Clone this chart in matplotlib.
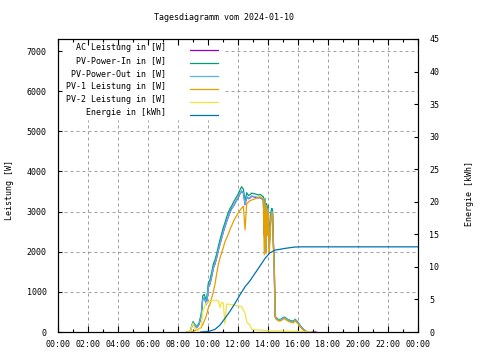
import numpy as np
import matplotlib

matplotlib.use("Agg")
import matplotlib.pyplot as plt  # noqa: E402
from matplotlib.patches import Rectangle  # noqa: E402
from matplotlib.ticker import MultipleLocator  # noqa: E402

plt.rcParams["font.family"] = ["DejaVu Sans Mono"]
plt.rcParams["font.size"] = 6

# time of day in hours
t_pw = [8.6, 8.8, 9.0, 9.1, 9.25, 9.4, 9.55, 9.65, 9.75, 9.9,
        10.02, 10.13, 10.24, 10.36, 10.47, 10.58, 10.7, 10.8, 10.91, 11.02,
        11.13, 11.24, 11.36, 11.47, 11.58, 11.69, 11.8, 11.91, 12.02, 12.13,
        12.24, 12.3, 12.36, 12.47, 12.58, 12.7, 12.8, 12.91, 13.02, 13.13,
        13.25, 13.36, 13.47, 13.58, 13.69, 13.75, 13.8, 13.86, 13.91, 13.97,
        14.02, 14.08, 14.13, 14.2, 14.25, 14.3, 14.36, 14.42, 14.47, 14.52,
        14.6, 14.7, 14.8, 14.9, 15.0, 15.13, 15.25, 15.4, 15.55, 15.7,
        15.8, 15.91, 16.02, 16.15, 16.3, 16.47, 16.6, 16.75, 16.9]

ac_power = [0, 0, 225, 175, 105, 185, 395, 815, 850, 695,
            1110, 1190, 1370, 1590, 1700, 1850, 2050, 2190, 2340, 2490,
            2620, 2750, 2870, 2990, 3080, 3130, 3210, 3280, 3350, 3440,
            3510, 3480, 3460, 3170, 3370, 3320, 3340, 3380, 3370, 3360,
            3350, 3340, 3350, 3320, 3290, 2390, 3250, 1990, 3120, 2590,
            3060, 2090, 2490, 2920, 3000, 2970, 2190, 1570, 405, 340,
            320, 295, 290, 315, 340, 350, 310, 285, 263, 253,
            300, 263, 215, 145, 85, 28, 4, 0, 0]
ac_tail_t = [17.05, 17.2]
ac_tail = [0, 0]

pv_in = [0, 0, 260, 200, 130, 220, 450, 900, 940, 760,
         1220, 1300, 1480, 1700, 1800, 1950, 2150, 2300, 2450, 2600,
         2720, 2860, 2980, 3080, 3140, 3230, 3300, 3370, 3440, 3540,
         3620, 3580, 3560, 3260, 3470, 3400, 3420, 3460, 3450, 3440,
         3430, 3410, 3430, 3400, 3370, 2450, 3330, 2050, 3200, 2650,
         3150, 2150, 2550, 3000, 3080, 3050, 2250, 1620, 430, 360,
         340, 310, 305, 330, 360, 370, 330, 300, 280, 270,
         320, 280, 230, 160, 90, 30, 5, 0, 0]

pv_out = [0, 0, 230, 180, 110, 190, 400, 820, 860, 700,
          1120, 1200, 1380, 1600, 1710, 1860, 2060, 2200, 2350, 2500,
          2630, 2760, 2880, 2980, 3060, 3140, 3220, 3290, 3360, 3450,
          3520, 3490, 3470, 3180, 3380, 3330, 3350, 3390, 3380, 3370,
          3360, 3350, 3360, 3330, 3300, 2400, 3260, 2000, 3130, 2600,
          3070, 2100, 2500, 2930, 3010, 2980, 2200, 1580, 410, 345,
          325, 300, 295, 320, 345, 355, 315, 290, 268, 258,
          305, 268, 220, 150, 85, 28, 4, 0, 0]

pv1 = [0, 0, 15, 30, 50, 80, 110, 190, 270, 420,
       600, 690, 840, 1000, 1200, 1460, 1700, 1850, 1970, 2100,
       2250, 2340, 2450, 2560, 2650, 2750, 2830, 2900, 2970, 3030,
       3085, 3110, 3130, 2550, 3200, 3240, 3270, 3290, 3300, 3320,
       3340, 3350, 3370, 3340, 3320, 1920, 3250, 1950, 3150, 2400,
       3000, 2000, 2300, 2800, 2950, 2950, 2100, 1500, 400, 330,
       300, 280, 270, 290, 320, 330, 290, 260, 240, 230,
       280, 240, 200, 130, 60, 15, 0, 0, 0]

pv2 = [0, 0, 220, 90, 40, 60, 150, 500, 620, 730,
       750, 760, 770, 780, 790, 790, 770, 610, 740, 720,
       200, 700, 690, 685, 680, 673, 665, 655, 648, 640,
       630, 600, 540, 460, 260, 200, 170, 70, 60, 55,
       50, 50, 48, 45, 40, 38, 35, 32, 30, 28,
       26, 25, 25, 25, 25, 25, 25, 25, 25, 25,
       25, 25, 25, 24, 24, 23, 22, 20, 18, 17,
       16, 15, 12, 8, 4, 0, 0, 0, 0]

t_en = [9.5, 9.8, 10.13, 10.47, 10.8, 11.13, 11.47, 11.8, 12.13, 12.47,
        12.8, 13.13, 13.47, 13.8, 14.13, 14.47, 14.8, 15.13, 15.47, 15.8,
        16.2, 24.0]
energy = [0, 0.05, 0.15, 0.41, 1.07, 2.1, 3.2, 4.4, 5.7, 6.95,
          7.87, 9.0, 10.15, 11.3, 12.16, 12.58, 12.7, 12.84, 12.95, 13.05,
          13.08, 13.08]

labels = ["AC Leistung in [W]", "PV-Power-In in [W]", "PV-Power-Out in [W]",
          "PV-1 Leistung in [W]", "PV-2 Leistung in [W]", "Energie in [kWh]"]
colors = ["#9400d3", "#009e73", "#56b4e9", "#e69f00", "#f0e442", "#0072b2"]
hour_ticks = list(range(0, 25, 2))
hour_labels = [f"{h % 24:02d}:00" for h in hour_ticks]

W, H = 480, 360
L, R, T, B = 58, 418, 39, 332
fig = plt.figure(figsize=(W / 100, H / 100), dpi=100)
ax = fig.add_axes([L / W, 1 - B / H, (R - L) / W, (B - T) / H])
ax.set_xlim(0, 24)
ax.set_ylim(0, 7300)
ax2 = ax.twinx()
ax2.set_ylim(0, 45)

lw = 0.9
ax.plot(t_pw + ac_tail_t, ac_power + ac_tail, color=colors[0], lw=lw, zorder=3)
ax.plot(t_pw, pv_in, color=colors[1], lw=lw, zorder=3)
ax.plot(t_pw, pv_out, color=colors[2], lw=lw, zorder=3)
ax.plot(t_pw, pv1, color=colors[3], lw=lw, zorder=3)
ax.plot(t_pw, pv2, color=colors[4], lw=lw, zorder=3)
ax2.plot(t_en, energy, color=colors[5], lw=lw, zorder=3)

# grid (kept out of the opaque key box)
box_x = (225 - L) / (R - L)
box_y = (B - 120) / (B - T)
grid_kw = dict(color="#a0a0a0", lw=0.72, ls=(0, (3, 3)), zorder=1)
for h in hour_ticks[1:-1]:
    xf = h / 24
    ax.axvline(h, ymax=box_y if xf < box_x else 1, **grid_kw)
for v in range(1000, 7001, 1000):
    yf = v / 7300
    ax.axhline(v, xmin=box_x if yf > box_y else 0, **grid_kw)

# ticks
ax.set_xticks(hour_ticks)
ax.set_xticklabels(hour_labels)
ax.xaxis.set_minor_locator(MultipleLocator(1))
ax.set_yticks(range(0, 7001, 1000))
ax.tick_params(axis="x", which="major", direction="in", top=True, length=4, width=0.8, pad=6)
ax.tick_params(axis="x", which="minor", direction="in", top=True, length=2, width=0.8)
ax.tick_params(axis="y", direction="in", left=True, right=False, length=3, width=0.8, pad=8)
ax2.set_yticks(range(0, 46, 5))
ax2.tick_params(axis="y", direction="in", right=True, length=3, width=0.8, pad=8)
for a in (ax, ax2):
    for s in a.spines.values():
        s.set_linewidth(0.8)

# key
def fx(px):
    return px / W


def fy(py):
    return 1 - py / H


for i, (lab, c) in enumerate(zip(labels, colors)):
    y = 47.5 + 13 * i
    fig.text(fx(166), fy(y), lab, ha="right", va="center", fontsize=6)
    fig.lines.append(plt.Line2D([fx(190), fx(218)], [fy(y + 2), fy(y + 2)],
                                transform=fig.transFigure, color=c, lw=lw))

fig.text(fx(223.5), fy(17.5), "Tagesdiagramm vom 2024-01-10", ha="center", va="center", fontsize=6)
fig.text(fx(10), fy(190), "Leistung [W]", rotation=90, ha="center", va="center", fontsize=6)
fig.text(fx(470), fy(194), "Energie [kWh]", rotation=90, ha="center", va="center", fontsize=6)

fig.savefig("out.png", dpi=100)
